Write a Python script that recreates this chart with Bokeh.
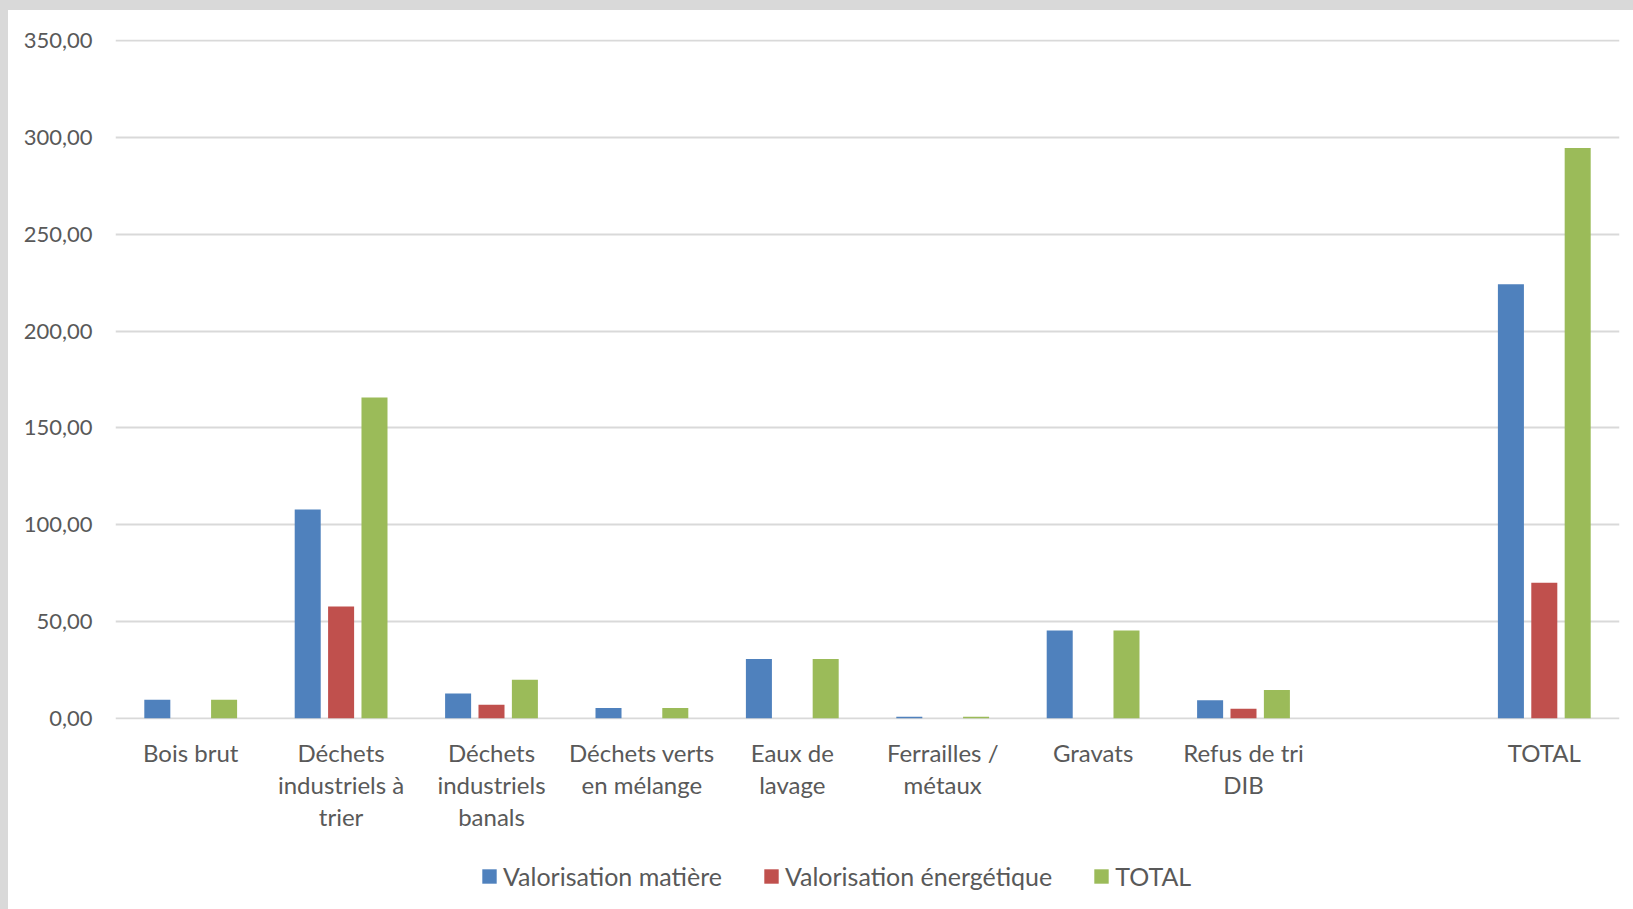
from bokeh.plotting import figure
from bokeh.layouts import column
from bokeh.models import ColumnDataSource, FactorRange, Range1d, Legend, LegendItem, FixedTicker
from bokeh.transform import dodge
from bokeh.embed import file_html
from bokeh.resources import INLINE

# ---- data ----
categories = [
    "Bois brut",
    "Déchets\nindustriels à\ntrier",
    "Déchets\nindustriels\nbanals",
    "Déchets verts\nen mélange",
    "Eaux de\nlavage",
    "Ferrailles /\nmétaux",
    "Gravats",
    "Refus de tri\nDIB",
    " ",
    "TOTAL",
]
valorisation_matiere = [9.6, 107.8, 12.8, 5.3, 30.6, 0.8, 45.4, 9.4, 0.0, 224.2]
valorisation_energetique = [0.0, 57.7, 7.0, 0.0, 0.0, 0.0, 0.0, 4.9, 0.0, 70.0]
total = [9.6, 165.7, 19.9, 5.3, 30.6, 0.8, 45.4, 14.6, 0.0, 294.6]
series_names = ["Valorisation matière", "Valorisation énergétique", "TOTAL"]
series_colors = ["#4F81BD", "#C0504D", "#9BBB59"]
y_ticks = [0, 50, 100, 150, 200, 250, 300, 350]

TEXT = "#595959"
GRID = "#D9D9D9"
FONT = "Lato"

source = ColumnDataSource(data=dict(
    cat=categories,
    s0=valorisation_matiere,
    s1=valorisation_energetique,
    s2=total,
))

p = figure(
    x_range=FactorRange(factors=categories, range_padding=0),
    y_range=Range1d(-0.6, 350.6),
    frame_width=1504,
    frame_height=680,
    min_border_left=107,
    min_border_right=10,
    min_border_top=29,
    min_border_bottom=125,
    output_backend="svg",
    toolbar_location=None,
    background_fill_color="white",
    border_fill_color="white",
)
p.outline_line_color = None

offsets = [-0.222, 0.0, 0.222]
for i, col in enumerate(series_colors):
    p.vbar(x=dodge("cat", offsets[i], range=p.x_range), top="s%d" % i, width=0.173,
           bottom=0, source=source, fill_color=col, line_color=None)

# y axis
p.yaxis.ticker = FixedTicker(ticks=y_ticks)
p.yaxis.major_label_overrides = {t: ("%.2f" % t).replace(".", ",") for t in y_ticks}
p.yaxis.axis_line_color = None
p.yaxis.major_tick_line_color = None
p.yaxis.minor_tick_line_color = None
p.yaxis.major_label_standoff = 17
p.yaxis.major_label_text_font = FONT
p.yaxis.major_label_text_font_size = "22px"
p.yaxis.major_label_text_color = TEXT

# x axis
p.xaxis.axis_line_color = None
p.xaxis.major_tick_line_color = None
p.xaxis.minor_tick_line_color = None
p.xaxis.major_label_standoff = 12
p.xaxis.major_label_text_font = FONT
p.xaxis.major_label_text_font_size = "24px"
p.xaxis.major_label_text_color = TEXT
p.xaxis.major_label_text_line_height = 1.12

# grid
p.xgrid.grid_line_color = None
p.ygrid.grid_line_color = GRID
p.ygrid.grid_line_width = 2

# ---- legend strip below the chart ----
leg = figure(
    width=1621, height=50,
    x_range=Range1d(0, 1), y_range=Range1d(0, 1),
    x_axis_type=None, y_axis_type=None,
    min_border_left=0, min_border_right=0, min_border_top=0, min_border_bottom=0,
    output_backend="svg",
    toolbar_location=None,
    background_fill_color="white",
    border_fill_color="white",
)
leg.outline_line_color = None
leg.grid.visible = False
nan = float("nan")
leg_renderers = []
for col in series_colors:
    src = ColumnDataSource(data=dict(x=[nan], top=[nan]))
    leg_renderers.append(leg.vbar(x="x", top="top", width=0.1, source=src,
                                  fill_color=col, line_color=None))

legend = Legend(
    items=[LegendItem(label=n, renderers=[r]) for n, r in zip(series_names, leg_renderers)],
    orientation="horizontal",
    location=(365, 3),
    glyph_width=18,
    glyph_height=18,
    label_standoff=5,
    spacing=40,
    padding=0,
    margin=0,
    border_line_color=None,
    background_fill_alpha=0,
    label_text_font=FONT,
    label_text_font_size="25px",
    label_text_color=TEXT,
)
leg.add_layout(legend)

layout = column(p, leg, spacing=0)

html = file_html(layout, INLINE)
css = ("<style>html{background:#ffffff;}"
       "body{padding:10px 0 0 8px !important;"
       "background:linear-gradient(#D9D9D9,#D9D9D9) 0 0/100% 10px no-repeat,"
       "linear-gradient(#D9D9D9,#D9D9D9) 0 0/8px 100% no-repeat,#ffffff !important;}</style>")
html = html.replace("</head>", css + "</head>", 1)
open("out.html", "w").write(html)
